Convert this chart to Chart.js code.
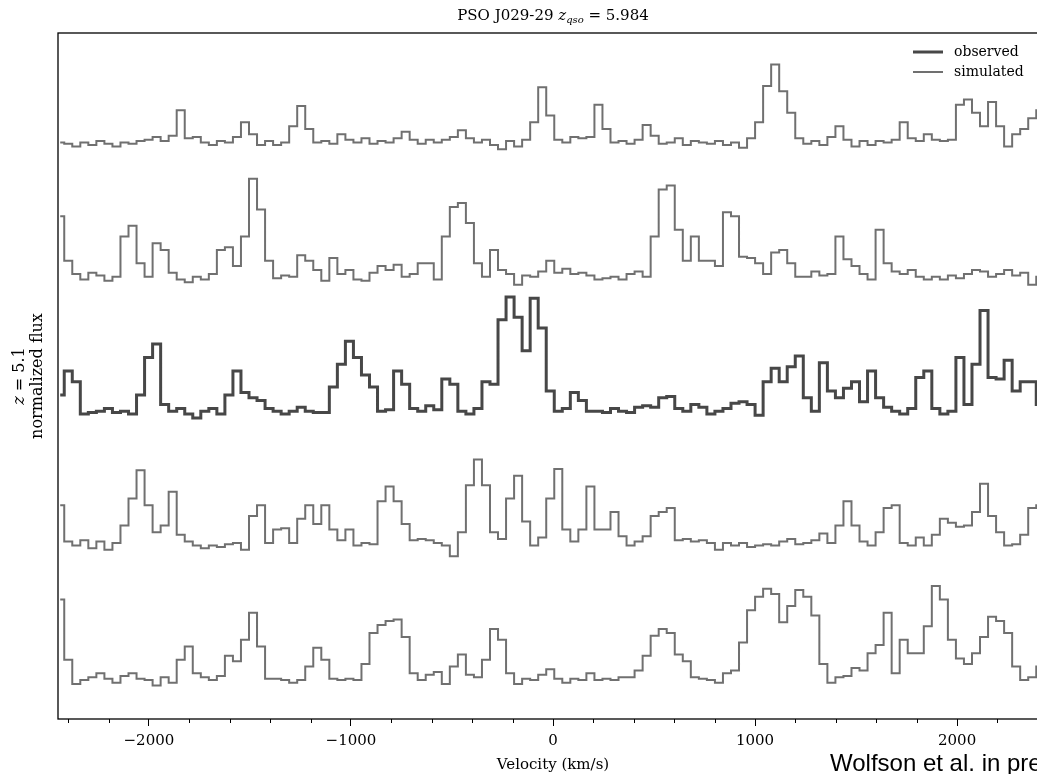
<!DOCTYPE html>
<html><head><meta charset="utf-8">
<script src="https://cdn.jsdelivr.net/npm/chart.js@4"></script>
<style>
html,body{margin:0;padding:0;overflow:hidden;background:#fff;width:1037px;height:774px}
#wrap{position:absolute;left:0;top:0;width:1080px;height:774px}
</style></head><body>
<div id="wrap"><canvas id="c" width="1080" height="774"></canvas></div>
<script>
// ---- data ----
const VEL_START = -2439;      // km/s, centre of first pixel
const VEL_STEP = 39.76;       // km/s per pixel
const X_MIN = -2450, X_MAX = 2450;
const MAJOR_TICKS = [-2000, -1000, 0, 1000, 2000];
const MINOR_TICKS = [-2400,-2200,-1800,-1600,-1400,-1200,-800,-600,-400,-200,200,400,600,800,1200,1400,1600,1800,2200,2400];
const OFFSETS = [4, 3, 2, 1, 0];   // vertical offset of each stacked spectrum
const LABELS = ['simulated', 'simulated', 'observed', 'simulated', 'simulated'];

const SIM_A = [
 0.00,-0.01,-0.03,0.00,-0.02,0.01,-0.01,-0.03,0.00,-0.01,
 0.01,0.02,0.04,0.01,0.05,0.24,0.03,0.04,0.00,-0.02,
 0.01,0.00,0.04,0.15,0.06,-0.02,0.01,-0.02,0.00,0.12,
 0.27,0.10,0.00,0.01,-0.01,0.06,0.02,0.00,0.03,-0.01,
 0.01,0.00,0.03,0.08,0.02,-0.01,0.02,0.00,0.02,0.04,
 0.09,0.03,0.00,0.02,-0.02,-0.05,0.01,-0.03,0.02,0.15,
 0.41,0.20,0.02,0.00,0.04,0.03,0.04,0.28,0.10,0.00,
 0.01,-0.01,0.02,0.13,0.05,-0.01,0.00,0.03,-0.02,0.01,
 0.00,-0.01,0.01,-0.02,0.00,-0.04,0.03,0.15,0.42,0.58,
 0.38,0.22,0.03,-0.01,0.01,-0.02,0.04,0.12,0.02,-0.03,
 0.01,-0.02,0.01,0.00,0.02,0.15,0.03,0.01,0.06,0.02,
 0.01,0.02,0.28,0.32,0.22,0.12,0.30,0.12,-0.03,0.06,
 0.10,0.18,0.24];
const SIM_B = [
 0.45,0.12,0.02,-0.02,0.03,0.01,-0.03,0.00,0.30,0.38,
 0.10,0.00,0.25,0.20,0.03,-0.02,-0.04,0.00,-0.02,0.02,
 0.20,0.22,0.08,0.30,0.73,0.50,0.12,-0.01,0.01,0.00,
 0.16,0.12,0.05,-0.03,0.14,0.02,0.05,-0.02,-0.03,0.03,
 0.08,0.05,0.09,0.00,0.02,0.10,0.10,-0.02,0.30,0.52,
 0.55,0.40,0.10,0.00,0.20,0.05,0.02,-0.06,0.01,0.00,
 0.04,0.12,0.03,0.06,0.02,0.03,0.01,-0.02,-0.01,0.00,
 -0.02,0.02,0.04,0.00,0.30,0.65,0.68,0.35,0.12,0.30,
 0.12,0.12,0.08,0.48,0.45,0.15,0.14,0.10,0.02,0.18,
 0.20,0.10,0.00,0.00,0.04,0.01,0.02,0.30,0.13,0.08,
 0.02,-0.02,0.35,0.10,0.04,0.02,0.05,0.00,-0.02,0.00,
 -0.02,0.01,-0.01,0.02,0.05,0.04,0.00,0.02,0.05,0.01,
 0.03,-0.06,0.00];
const OBS = [
 0.12,0.30,0.22,-0.02,-0.01,0.00,0.02,-0.01,0.00,-0.02,
 0.12,0.40,0.50,0.05,0.00,0.02,-0.02,-0.05,0.00,0.02,
 -0.02,0.12,0.30,0.14,0.10,0.08,0.02,0.00,-0.02,0.00,
 0.03,0.00,-0.01,-0.01,0.18,0.35,0.52,0.40,0.27,0.18,
 0.00,0.01,0.30,0.20,0.02,0.00,0.04,0.01,0.24,0.20,
 0.00,-0.02,0.02,0.22,0.20,0.68,0.85,0.70,0.45,0.84,
 0.62,0.15,0.00,0.02,0.14,0.08,0.00,0.00,-0.01,0.02,
 0.00,-0.01,0.03,0.04,0.03,0.10,0.11,0.02,0.00,0.05,
 0.03,-0.02,0.00,0.02,0.06,0.07,0.05,-0.03,0.22,0.32,
 0.22,0.33,0.41,0.10,0.00,0.36,0.15,0.10,0.17,0.22,
 0.07,0.30,0.10,0.03,0.00,-0.02,0.02,0.25,0.30,0.02,
 -0.02,0.00,0.40,0.05,0.35,0.75,0.25,0.24,0.38,0.15,
 0.22,0.22,0.05];
const SIM_C = [
 0.30,0.03,0.00,0.04,-0.02,0.03,-0.03,0.02,0.15,0.35,
 0.56,0.30,0.10,0.15,0.40,0.08,0.03,0.00,-0.02,0.00,
 -0.01,0.01,0.02,-0.03,0.22,0.30,0.02,0.12,0.13,0.02,
 0.20,0.30,0.16,0.30,0.12,0.04,0.12,0.00,0.02,0.01,
 0.33,0.44,0.33,0.16,0.04,0.05,0.04,0.02,0.00,-0.08,
 0.10,0.45,0.64,0.45,0.10,0.05,0.35,0.52,0.18,0.00,
 0.06,0.35,0.57,0.12,0.03,0.12,0.44,0.12,0.12,0.25,
 0.07,0.00,0.03,0.07,0.22,0.25,0.28,0.04,0.05,0.03,
 0.04,0.02,-0.03,0.02,0.00,0.02,-0.01,0.00,0.01,0.00,
 0.03,0.05,0.01,0.02,0.04,0.09,0.02,0.15,0.33,0.15,
 0.03,0.00,0.10,0.28,0.30,0.02,0.00,0.06,0.00,0.08,
 0.20,0.17,0.14,0.15,0.25,0.46,0.22,0.10,0.00,0.01,
 0.08,0.28,0.30];
const SIM_D = [
 0.60,0.15,-0.03,0.00,0.02,0.05,0.01,-0.02,0.03,0.05,
 0.01,0.00,-0.04,0.02,-0.02,0.15,0.25,0.05,0.02,0.00,
 0.03,0.18,0.14,0.30,0.50,0.25,0.01,0.01,0.00,-0.02,
 0.00,0.10,0.24,0.15,0.01,0.00,0.01,0.00,0.12,0.35,
 0.41,0.44,0.45,0.32,0.05,0.00,0.04,0.06,-0.03,0.10,
 0.19,0.04,0.02,0.15,0.38,0.30,0.05,-0.03,0.01,0.00,
 0.04,0.08,0.01,-0.02,0.01,0.00,0.05,0.00,0.01,0.00,
 0.02,0.02,0.07,0.18,0.33,0.38,0.35,0.19,0.14,0.02,
 0.01,0.00,-0.02,0.05,0.07,0.28,0.52,0.62,0.68,0.64,
 0.43,0.55,0.67,0.62,0.48,0.12,-0.02,0.02,0.03,0.09,
 0.07,0.20,0.26,0.50,0.05,0.30,0.20,0.20,0.40,0.70,
 0.60,0.30,0.16,0.12,0.20,0.32,0.47,0.44,0.35,0.10,
 0.00,0.02,0.10];

const SERIES = [SIM_A, SIM_B, OBS, SIM_C, SIM_D];

// ---- styles ----
const SIM_COLOR = '#707070';
const OBS_COLOR = '#474747';
const SERIF = '"DejaVu Serif", serif';

const velocity = SIM_A.map((_, i) => VEL_START + i * VEL_STEP);

const datasets = SERIES.map((arr, k) => {
  const obs = LABELS[k] === 'observed';
  return {
    label: LABELS[k],
    data: arr.map((f, i) => ({x: velocity[i], y: f + OFFSETS[k]})),
    stepped: 'middle',
    borderColor: obs ? OBS_COLOR : SIM_COLOR,
    borderWidth: obs ? 3 : 2,
    pointRadius: 0,
    fill: false,
    order: obs ? 0 : 1
  };
});

function fmtTick(v) {
  return v < 0 ? '\u2212' + Math.abs(v) : String(v);
}

const decor = {
  id: 'decor',
  afterDraw(chart) {
    const ctx = chart.ctx, a = chart.chartArea, xs = chart.scales.x;
    ctx.save();
    // frame
    ctx.strokeStyle = '#000';
    ctx.lineWidth = 1.3;
    ctx.strokeRect(a.left, a.top, a.right - a.left, a.bottom - a.top);
    // minor ticks
    ctx.lineWidth = 1;
    ctx.beginPath();
    MINOR_TICKS.forEach(v => {
      const px = Math.round(xs.getPixelForValue(v)) + 0.5;
      ctx.moveTo(px, a.bottom);
      ctx.lineTo(px, a.bottom + 4);
    });
    ctx.stroke();

    // title with italic z and subscript
    const parts = [
      {t: 'PSO J029-29 ', f: '15px ' + SERIF, dy: 0},
      {t: 'z', f: 'italic 15px ' + SERIF, dy: 0},
      {t: 'qso', f: 'italic 10px ' + SERIF, dy: 3},
      {t: ' = 5.984', f: '15px ' + SERIF, dy: 0}
    ];
    let w = 0;
    parts.forEach(p => { ctx.font = p.f; p.w = ctx.measureText(p.t).width; w += p.w; });
    let x = (a.left + a.right) / 2 - w / 2;
    ctx.fillStyle = '#000';
    ctx.textBaseline = 'alphabetic';
    parts.forEach(p => { ctx.font = p.f; ctx.fillText(p.t, x, 20 + p.dy); x += p.w; });

    // y label (rotated, two lines)
    const cy = (a.top + a.bottom) / 2;
    ctx.save();
    ctx.translate(0, cy);
    ctx.rotate(-Math.PI / 2);
    ctx.textBaseline = 'middle';
    const l1 = [{t: 'z', f: 'italic 16px ' + SERIF}, {t: ' = 5.1', f: '16px ' + SERIF}];
    let w1 = 0;
    l1.forEach(p => { ctx.font = p.f; p.w = ctx.measureText(p.t).width; w1 += p.w; });
    let xx = -w1 / 2;
    l1.forEach(p => { ctx.font = p.f; ctx.fillText(p.t, xx, 20); xx += p.w; });
    ctx.font = '16px ' + SERIF;
    ctx.textAlign = 'center';
    ctx.fillText('normalized flux', 0, 38);
    ctx.restore();

    // legend
    const items = [
      {label: 'observed', color: OBS_COLOR, lw: 3, y: 52},
      {label: 'simulated', color: SIM_COLOR, lw: 2, y: 72}
    ];
    items.forEach(it => {
      ctx.strokeStyle = it.color;
      ctx.lineWidth = it.lw;
      ctx.beginPath();
      ctx.moveTo(913, it.y);
      ctx.lineTo(943, it.y);
      ctx.stroke();
      ctx.fillStyle = '#000';
      ctx.font = '14px ' + SERIF;
      ctx.textAlign = 'left';
      ctx.textBaseline = 'middle';
      ctx.fillText(it.label, 954, it.y);
    });

    // credit
    ctx.font = '24px "Liberation Sans", Arial, sans-serif';
    ctx.fillStyle = '#000';
    ctx.textAlign = 'left';
    ctx.textBaseline = 'middle';
    ctx.fillText('Wolfson et al. in prep', 830, 764);
    ctx.restore();
  }
};

new Chart(document.getElementById('c'), {
  type: 'line',
  data: {datasets},
  options: {
    responsive: false,
    animation: false,
    devicePixelRatio: 1,
    layout: {padding: {left: 58, top: 33, right: 32, bottom: 0}},
    plugins: {legend: {display: false}, tooltip: {enabled: false}, title: {display: false}},
    scales: {
      x: {
        type: 'linear', min: X_MIN, max: X_MAX,
        afterBuildTicks: s => { s.ticks = MAJOR_TICKS.map(v => ({value: v})); },
        afterFit: s => { s.height = 55; },
        grid: {display: true, drawOnChartArea: false, drawTicks: true, tickLength: 7, color: '#000', tickWidth: 1},
        border: {display: false},
        ticks: {padding: 6, color: '#000', font: {family: SERIF, size: 15}, maxRotation: 0, callback: v => fmtTick(v)},
        title: {display: true, text: 'Velocity (km/s)', color: '#000', font: {family: SERIF, size: 15}, padding: {top: 0, bottom: 0}}
      },
      y: {display: false, min: -0.29, max: 4.814}
    }
  },
  plugins: [decor]
});
</script>
</body></html>
